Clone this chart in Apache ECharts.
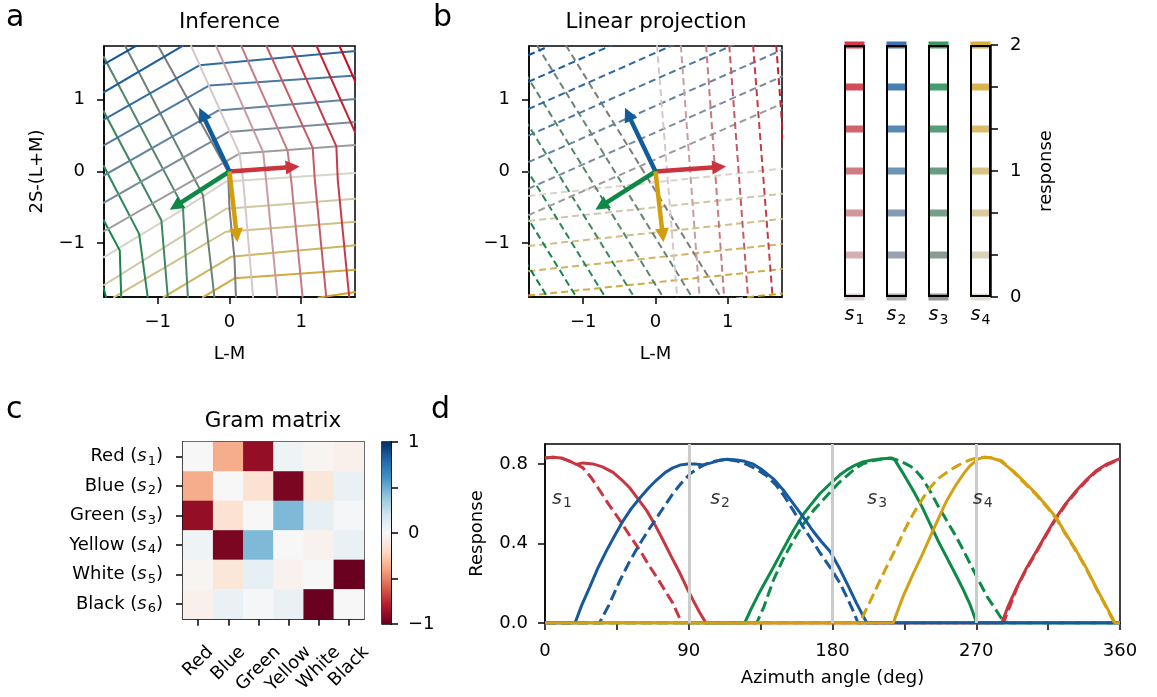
<!DOCTYPE html>
<html>
<head>
<meta charset="utf-8">
<script src="https://cdn.jsdelivr.net/npm/echarts@6/dist/echarts.min.js"></script>
<style>
html, body { margin: 0; padding: 0; background: #fff; }
#chart { width: 1157px; height: 697px; }
</style>
</head>
<body>
<div id="chart"></div>
<script>
// ---- data ----
var lmTicks = [-1, 0, 1];
var respLevels = [0, 1/3, 2/3, 1, 4/3, 5/3, 2];
var respLabels = [0, 1, 2];
var respCats = ['s1', 's2', 's3', 's4'];
var boxTop = [2, 2, 2, 2];
var subNums = ['1', '2', '3', '4', '5', '6'];

// level colours (level 0 .. 2) for s1..s4
var colS1 = ['#d5c8ca', '#c99ca2', '#c67b82', '#c55b65', '#c43c48', '#c62030', '#c9081c'];
var colS2 = ['#9c9c9c', '#7d8c9c', '#6584a2', '#4a78a0', '#2f6a9f', '#1c5e9e', '#0c5199'];
var colS3 = ['#7c7c7c', '#688573', '#54866b', '#3f8661', '#2a8657', '#158649', '#07803e'];
var colS4 = ['#d8d4c8', '#d0c7a7', '#d1be87', '#d0b462', '#d0aa42', '#d0a122', '#cf9a0c'];
var arrowColors = ['#c9343f', '#135c9c', '#0f8845', '#d39e0e'];
var curveColors = ['#c83741', '#18599c', '#0e8a48', '#d4a012'];

// basis vectors (arrow shafts)
var arrowEnds = [[0.88, 0.064], [-0.38, 0.80], [-0.75, -0.48], [0.10, -0.89]];

// panel a: inferred iso-response lines (polylines), level 0..
var infS1 = [
  [[-0.54, 1.76], [0.14, 0.25], [0.19, -0.12], [0.33, -1.76]],
  [[-0.19, 1.76], [0.47, 0.27], [0.51, -0.12], [0.67, -1.76]],
  [[0.16, 1.76], [0.81, 0.29], [0.86, -0.12], [1.02, -1.76]],
  [[0.51, 1.76], [1.16, 0.33], [1.19, -0.12], [1.35, -1.76]],
  [[0.86, 1.76], [1.49, 0.35], [1.51, -0.12], [1.67, -1.76]],
  [[1.21, 1.76], [1.76, 0.53]],
  [[1.53, 1.76], [1.76, 1.24]]
];
var infS2 = [
  [[-1.76, -0.84], [0.14, 0.25], [1.76, 0.37]],
  [[-1.76, -0.44], [-0.02, 0.55], [1.76, 0.69]],
  [[-1.76, -0.06], [-0.16, 0.85], [1.76, 1.01]],
  [[-1.76, 0.36], [-0.28, 1.20], [1.76, 1.34]],
  [[-1.76, 0.72], [-0.42, 1.48], [1.76, 1.68]],
  [[-1.76, 1.10], [-0.64, 1.76]],
  [[-1.76, 1.49], [-1.29, 1.76]]
];
var infS3 = [
  [[-1.00, 1.76], [-0.02, 0.0], [0.0, -0.52], [0.07, -1.22], [0.09, -1.76]],
  [[-1.46, 1.76], [-0.37, -0.33], [-0.21, -1.76]],
  [[-1.76, 1.61], [-0.65, -0.49], [-0.58, -1.76]],
  [[-1.76, 0.85], [-0.95, -0.68], [-0.86, -1.76]],
  [[-1.76, 0.09], [-1.26, -0.87], [-1.14, -1.76]],
  [[-1.76, -0.67], [-1.53, -1.10], [-1.51, -1.76]],
  [[-1.76, -1.61], [-1.72, -1.76]]
];
var infS4 = [
  [[-1.76, -1.20], [-0.70, -0.56], [-0.05, -0.14], [1.76, -0.02]],
  [[-1.76, -1.59], [-0.05, -0.52], [1.76, -0.38]],
  [[-1.62, -1.76], [-0.05, -0.84], [1.76, -0.70]],
  [[-0.93, -1.76], [0.02, -1.19], [1.76, -1.03]],
  [[-0.38, -1.76], [0.07, -1.49], [1.76, -1.37]],
  [[1.23, -1.76], [1.76, -1.68]]
];

// panel b: straight iso-lines [x0, y0, x1, y1], level 0..
var linS1 = [[0.02, 1.76, 0.30, -1.76], [0.35, 1.76, 0.61, -1.76], [0.70, 1.76, 0.95, -1.76],
  [1.02, 1.76, 1.28, -1.76], [1.35, 1.76, 1.62, -1.76], [1.67, 1.76, 1.93, -1.76]];
var linS2 = [[-1.76, -0.61, 1.76, 0.95], [-1.76, -0.24, 1.76, 1.33], [-1.76, 0.13, 1.76, 1.70],
  [-1.76, 0.50, 1.76, 2.07], [-1.76, 0.87, 1.76, 2.44], [-1.76, 1.25, 1.76, 2.81], [-1.76, 1.62, 1.76, 3.19]];
var linS3 = [[-1.24, 1.76, 0.91, -1.76], [-1.64, 1.76, 0.51, -1.76], [-2.04, 1.76, 0.11, -1.76],
  [-2.44, 1.76, -0.29, -1.76], [-2.84, 1.76, -0.69, -1.76], [-3.24, 1.76, -1.09, -1.76], [-3.64, 1.76, -1.49, -1.76]];
var linS4 = [[-1.76, -0.34, 1.76, 0.04], [-1.76, -0.69, 1.76, -0.31], [-1.76, -1.04, 1.76, -0.66],
  [-1.76, -1.39, 1.76, -1.01], [-1.76, -1.73, 1.76, -1.36], [-1.76, -2.08, 1.76, -1.70]];

// panel c: Gram matrix
var heatCols = ['Red', 'Blue', 'Green', 'Yellow', 'White', 'Black'];
var heatRows = ['Red', 'Blue', 'Green', 'Yellow', 'White', 'Black'];
var gram = [
  [0.00, -0.37, -0.88, 0.05, -0.02, -0.05],
  [-0.37, 0.00, -0.15, -0.95, -0.12, 0.07],
  [-0.88, -0.15, 0.00, 0.45, 0.09, 0.01],
  [0.05, -0.95, 0.45, 0.00, -0.04, 0.07],
  [-0.02, -0.12, 0.09, -0.04, 0.00, -0.99],
  [-0.05, 0.07, 0.01, 0.07, -0.99, 0.00]
];
var cbRange = [-1, 1];
var cbTicks = [-1, -0.5, 0, 0.5, 1];
var cbLabels = [-1, 0, 1];
var rdbu = ['#67001f', '#b2182b', '#d6604d', '#f4a582', '#fddbc7', '#f7f7f7',
  '#d1e5f0', '#92c5de', '#4393c3', '#2166ac', '#053061'];

// panel d: response vs azimuth
var azTicks = [0, 45, 90, 135, 180, 225, 270, 315, 360];
var azLabels = [0, 90, 180, 270, 360];
var respTicksD = [0, 0.4, 0.8];
var guideAngles = [90, 180, 270];
var sLabelPos = [[10.6, 0.625], [109.6, 0.625], [208, 0.625], [274, 0.625]];

var s1Solid = [[0,0.83],[5,0.833],[10,0.83],[15,0.815],[19.8,0.797],[23.8,0.805],[30,0.80],[36,0.785],[42.6,0.757],[48,0.72],[53,0.68],[58,0.627],[63.7,0.565],[69,0.492],[74,0.415],[79,0.335],[84.5,0.25],[88.6,0.18],[92.7,0.115],[97,0.05],[100.8,0],[286,0],[290,0.085],[295.4,0.18],[301,0.27],[307.9,0.365],[314,0.45],[320,0.53],[326,0.60],[332.6,0.665],[339,0.72],[345,0.765],[352,0.80],[358.8,0.823],[360,0.825]];
var s1Dash = [[0,0.83],[5,0.833],[10,0.83],[15,0.815],[20,0.797],[23.8,0.78],[29,0.73],[34.4,0.665],[40,0.595],[47,0.515],[53,0.44],[59.5,0.365],[65,0.29],[70,0.23],[75,0.165],[80,0.10],[85.6,0],[287,0],[295.4,0.175],[301,0.265],[307.9,0.36],[314,0.445],[320,0.525],[326,0.595],[332.6,0.66],[339,0.715],[345,0.76],[352,0.795],[358.8,0.82],[360,0.823]];
var s2Solid = [[0,0],[18.8,0],[23,0.09],[28,0.18],[33,0.275],[38.6,0.365],[44,0.445],[49,0.515],[54,0.575],[59.5,0.63],[65,0.68],[70,0.72],[75,0.755],[80,0.78],[85,0.795],[89.6,0.80],[94,0.80],[99,0.795],[104,0.805],[109,0.818],[113.8,0.823],[120,0.82],[125,0.813],[130,0.80],[136,0.77],[143,0.725],[149,0.67],[155,0.605],[161,0.54],[168,0.46],[173,0.41],[178.5,0.36],[184.7,0.27],[189,0.20],[195,0.10],[201.5,0],[360,0]];
var s2Dash = [[0,0],[34,0],[40,0.09],[47,0.215],[53,0.31],[59.5,0.40],[65,0.47],[70,0.53],[75,0.59],[80,0.65],[85,0.70],[90.8,0.75],[96,0.78],[101,0.80],[107,0.815],[113.8,0.823],[120,0.815],[127,0.795],[133,0.77],[138.8,0.74],[145,0.69],[150,0.635],[155.5,0.565],[161,0.49],[166,0.43],[172,0.355],[178.5,0.28],[184.7,0.20],[189,0.13],[193,0.06],[196,0],[360,0]];
var s3Solid = [[0,0],[125,0],[129,0.07],[134.7,0.16],[143,0.28],[149,0.37],[155.5,0.465],[162,0.55],[168,0.61],[172,0.65],[178.5,0.70],[184.7,0.745],[189,0.77],[194,0.793],[199,0.81],[205,0.82],[211,0.826],[216.7,0.828],[219,0.82],[224,0.755],[230.6,0.665],[236,0.585],[241,0.50],[246,0.415],[251.5,0.33],[257,0.245],[262,0.165],[266,0.095],[270.3,0],[360,0]];
var s3Dash = [[0,0],[132.5,0],[137,0.08],[143,0.215],[149,0.32],[155.5,0.415],[162,0.50],[168,0.565],[172,0.60],[178.5,0.657],[184,0.705],[189,0.74],[194,0.775],[199,0.80],[205,0.815],[211,0.825],[216.7,0.83],[222,0.815],[226,0.80],[230.6,0.78],[236,0.73],[241,0.665],[246,0.59],[251.5,0.515],[257,0.44],[262,0.365],[267,0.285],[272.4,0.20],[277,0.13],[282,0.07],[286,0.02],[290,0],[360,0]];
var s4Solid = [[0,0],[218,0],[224,0.13],[230.6,0.25],[236,0.34],[241,0.43],[246,0.52],[251.5,0.615],[257,0.69],[262,0.75],[266,0.79],[271.3,0.825],[275,0.833],[278.6,0.832],[285,0.815],[293,0.765],[300,0.71],[307.5,0.65],[314,0.59],[320,0.53],[326,0.45],[332.6,0.365],[339,0.275],[345,0.18],[351,0.09],[356.9,0],[360,0]];
var s4Dash = [[0,0],[197,0],[203,0.10],[209.8,0.215],[215,0.30],[220,0.38],[225,0.465],[230.6,0.55],[236,0.62],[241,0.68],[246,0.725],[251.5,0.757],[257,0.785],[262,0.807],[266,0.82],[270.3,0.83],[275,0.833],[280,0.83],[286,0.815],[293,0.762],[300,0.705],[307.5,0.645],[314,0.585],[320,0.525],[326,0.445],[332.6,0.36],[339,0.27],[345,0.175],[351,0.085],[356.5,0],[360,0]];

// ---- helpers ----
var FONT = 'DejaVu Sans';
var FS = 18;

function fmtNum(v) {
  return v < 0 ? '\u2212' + Math.abs(v) : String(v);
}

// italic s with a lowered, smaller index
function sRich(size) {
  return {
    i: { fontStyle: 'italic', fontSize: size, fontFamily: FONT, color: '#000' },
    n: { fontSize: Math.round(size * 0.72), fontFamily: FONT, color: '#000', padding: [Math.round(size * 0.5), 0, 0, 1] }
  };
}
function sText(k) {
  return '{i|s}{n|' + subNums[k] + '}';
}

function axisStyle(o) {
  var base = {
    axisLine: { show: true, onZero: false, lineStyle: { color: '#000', width: 1.5 } },
    axisTick: { show: true, length: 7, lineStyle: { color: '#000', width: 1.5 } },
    axisLabel: { color: '#000', fontSize: FS, fontFamily: FONT },
    splitLine: { show: false },
    nameTextStyle: { color: '#000', fontSize: FS, fontFamily: FONT },
    nameLocation: 'middle'
  };
  for (var k in o) {
    if (base[k] && typeof o[k] === 'object' && !Array.isArray(o[k])) {
      for (var j in o[k]) base[k][j] = o[k][j];
    } else {
      base[k] = o[k];
    }
  }
  return base;
}

function gridLine(idx, pts, color, dashed) {
  return {
    type: 'line', xAxisIndex: idx, yAxisIndex: idx, data: pts,
    symbol: 'none', showSymbol: false, clip: true, silent: true, z: 2,
    lineStyle: { color: color, width: 2, type: dashed ? [7, 4] : 'solid' }
  };
}

var series = [];

function addInference(fam, cols) {
  fam.forEach(function (pts, k) { series.push(gridLine(0, pts, cols[k], false)); });
}
function addLinear(fam, cols) {
  fam.forEach(function (s, k) {
    series.push(gridLine(1, [[s[0], s[1]], [s[2], s[3]]], cols[k], true));
  });
}

addInference(infS4, colS4);
addInference(infS3, colS3);
addInference(infS2, colS2);
addInference(infS1, colS1);
addLinear(linS4, colS4);
addLinear(linS3, colS3);
addLinear(linS2, colS2);
addLinear(linS1, colS1);

[0, 1].forEach(function (g) {
  series.push({
    type: 'lines', coordinateSystem: 'cartesian2d', xAxisIndex: g, yAxisIndex: g,
    symbol: ['none', 'triangle'], symbolSize: 14, silent: true, z: 5,
    data: arrowEnds.map(function (e, i) {
      return { coords: [[0, 0], e], lineStyle: { color: arrowColors[i] } };
    }),
    lineStyle: { width: 4.5, opacity: 1, curveness: 0 }
  });
});

// response bars
var bandData = [];
[colS1, colS2, colS3, colS4].forEach(function (cols, i) {
  respLevels.forEach(function (lv, k) {
    bandData.push({ value: [i, lv], itemStyle: { color: cols[k] } });
  });
});
series.push({
  type: 'scatter', xAxisIndex: 2, yAxisIndex: 2, symbol: 'rect', symbolSize: [20, 7],
  data: bandData, silent: true, z: 3
});
series.push({
  type: 'bar', xAxisIndex: 2, yAxisIndex: 2, data: boxTop, barWidth: 21, silent: true, z: 4,
  itemStyle: { color: 'rgba(0,0,0,0)', borderColor: '#000', borderWidth: 2 }
});

// heatmap
var heatData = [];
gram.forEach(function (row, r) {
  row.forEach(function (v, c) { heatData.push([c, r, v]); });
});
var heatIndex = series.length;
series.push({
  type: 'heatmap', xAxisIndex: 3, yAxisIndex: 3, data: heatData, silent: true
});

// colorbar
var cbStops = rdbu.slice().reverse().map(function (c, i, a) {
  return { offset: i / (a.length - 1), color: c };
});
series.push({
  type: 'custom', xAxisIndex: 4, yAxisIndex: 4, silent: true,
  data: [[0, cbRange[0], 1, cbRange[1]]],
  renderItem: function (params, api) {
    var p0 = api.coord([api.value(0), api.value(1)]);
    var p1 = api.coord([api.value(2), api.value(3)]);
    return {
      type: 'rect',
      shape: { x: p0[0], y: p1[1], width: p1[0] - p0[0], height: p0[1] - p1[1] },
      style: { fill: new echarts.graphic.LinearGradient(0, 0, 0, 1, cbStops) }
    };
  }
});

// panel d
series.push({
  type: 'line', xAxisIndex: 5, yAxisIndex: 5, data: [], z: 1, silent: true,
  markLine: {
    silent: true, symbol: ['none', 'none'], label: { show: false }, animation: false,
    lineStyle: { color: '#cccccc', width: 3, type: 'solid' },
    data: guideAngles.map(function (a) { return { xAxis: a }; })
  }
});
[[s1Solid, s1Dash, 0], [s3Solid, s3Dash, 2], [s2Solid, s2Dash, 1], [s4Solid, s4Dash, 3]].forEach(function (c) {
  [c[0], c[1]].forEach(function (d, j) {
    series.push({
      type: 'line', xAxisIndex: 5, yAxisIndex: 5, data: d, symbol: 'none', showSymbol: false,
      silent: true, z: 3, clip: true,
      lineStyle: { color: curveColors[c[2]], width: 3, type: j ? [11, 5] : 'solid' }
    });
  });
});
series.push({
  type: 'scatter', xAxisIndex: 5, yAxisIndex: 5, symbolSize: 1, silent: true, z: 6,
  itemStyle: { color: 'rgba(0,0,0,0)' },
  data: sLabelPos,
  label: {
    show: true, position: 'inside', color: '#000', fontSize: 19, fontFamily: FONT,
    formatter: function (p) { return sText(p.dataIndex); },
    rich: sRich(19)
  }
});

// rotated heatmap x labels, centred on the tick like the original
var ctx = document.createElement('canvas').getContext('2d');
ctx.font = FS + 'px "' + FONT + '"';
var widths = heatCols.map(function (c) { return ctx.measureText(c).width; });
var wMin = Math.min.apply(null, widths);
var heatRich = {};
widths.forEach(function (w, i) {
  var p = 1.414 * 0.354 * (w - wMin);
  heatRich['r' + i] = { padding: [p, p, 0, 0], fontSize: FS, fontFamily: FONT, color: '#000' };
});
var heatMargin = 23 + 0.354 * (wMin + 21);

var yRich = sRich(FS);

var chart = echarts.init(document.getElementById('chart'));
chart.setOption({
  animation: false,
  backgroundColor: '#fff',
  textStyle: { fontFamily: FONT },
  grid: [
    { left: 104, top: 46, width: 251, height: 251, show: true, borderColor: '#000', borderWidth: 1.5 },
    { left: 529, top: 46, width: 253, height: 251, show: true, borderColor: '#000', borderWidth: 1.5 },
    { left: 833.5, top: 45, width: 168, height: 252 },
    { left: 183, top: 442, width: 181, height: 182, show: true, borderColor: '#000', borderWidth: 1.5 },
    { left: 382, top: 442, width: 9, height: 182, show: true, borderColor: '#000', borderWidth: 1.5 },
    { left: 545, top: 444, width: 575, height: 179, show: true, borderColor: '#000', borderWidth: 1.5 }
  ],
  xAxis: [
    axisStyle({ type: 'value', gridIndex: 0, min: -1.75, max: 1.75, name: 'L-M', nameGap: 48,
      axisTick: { customValues: lmTicks }, axisLabel: { customValues: lmTicks, formatter: fmtNum, margin: 16 } }),
    axisStyle({ type: 'value', gridIndex: 1, min: -1.75, max: 1.75, name: 'L-M', nameGap: 48,
      axisTick: { customValues: lmTicks }, axisLabel: { customValues: lmTicks, formatter: fmtNum, margin: 16 } }),
    axisStyle({ type: 'category', gridIndex: 2, data: respCats,
      axisLine: { show: false }, axisTick: { show: false },
      axisLabel: { margin: 6, interval: 0, fontSize: 19, formatter: function (v, i) { return sText(i); },
        rich: sRich(19) } }),
    axisStyle({ type: 'category', gridIndex: 3, data: heatCols,
      axisTick: { alignWithLabel: true },
      axisLabel: { rotate: 45, align: 'center', verticalAlign: 'middle', margin: heatMargin, interval: 0,
        formatter: function (v, i) { return '{r' + i + '|' + v + '}'; }, rich: heatRich } }),
    { type: 'value', gridIndex: 4, min: 0, max: 1, show: false },
    axisStyle({ type: 'value', gridIndex: 5, min: 0, max: 360, name: 'Azimuth angle (deg)', nameGap: 46,
      axisTick: { customValues: azTicks }, axisLabel: { customValues: azLabels, margin: 19 } })
  ],
  yAxis: [
    axisStyle({ type: 'value', gridIndex: 0, min: -1.75, max: 1.75, name: '2S-(L+M)', nameGap: 58, nameRotate: 90,
      axisTick: { customValues: lmTicks }, axisLabel: { customValues: lmTicks, formatter: fmtNum, margin: 19 } }),
    axisStyle({ type: 'value', gridIndex: 1, min: -1.75, max: 1.75,
      axisTick: { customValues: lmTicks }, axisLabel: { customValues: lmTicks, formatter: fmtNum, margin: 19 } }),
    axisStyle({ type: 'value', gridIndex: 2, position: 'right', offset: -10.5, min: 0, max: 2,
      name: 'response', nameGap: 46, nameRotate: 90,
      axisTick: { customValues: respLevels }, axisLabel: { customValues: respLabels, margin: 19 } }),
    axisStyle({ type: 'category', gridIndex: 3, data: heatRows, inverse: true,
      axisTick: { alignWithLabel: true },
      axisLabel: { margin: 20, interval: 0,
        formatter: function (v, i) { return v + ' (' + sText(i) + ')'; },
        rich: yRich } }),
    axisStyle({ type: 'value', gridIndex: 4, position: 'right', min: -1, max: 1,
      axisTick: { customValues: cbTicks }, axisLabel: { customValues: cbLabels, formatter: fmtNum, margin: 17 } }),
    axisStyle({ type: 'value', gridIndex: 5, min: 0, max: 0.9, name: 'Response', nameGap: 59, nameRotate: 90,
      axisTick: { customValues: respTicksD },
      axisLabel: { customValues: respTicksD, margin: 17, formatter: function (v) { return v.toFixed(1); } } })
  ],
  visualMap: [{
    type: 'continuous', show: false, min: -1, max: 1, dimension: 2, seriesIndex: heatIndex,
    inRange: { color: rdbu }
  }],
  graphic: [
    { type: 'text', x: 6, y: 3, style: { text: 'a', font: '30px "DejaVu Sans"', fill: '#000', textVerticalAlign: 'top', verticalAlign: 'top' } },
    { type: 'text', x: 433, y: 3, style: { text: 'b', font: '30px "DejaVu Sans"', fill: '#000', textVerticalAlign: 'top', verticalAlign: 'top' } },
    { type: 'text', x: 6, y: 395, style: { text: 'c', font: '30px "DejaVu Sans"', fill: '#000', textVerticalAlign: 'top', verticalAlign: 'top' } },
    { type: 'text', x: 431, y: 395, style: { text: 'd', font: '30px "DejaVu Sans"', fill: '#000', textVerticalAlign: 'top', verticalAlign: 'top' } },
    { type: 'text', x: 229.5, y: 11, style: { text: 'Inference', font: '21.5px "DejaVu Sans"', fill: '#000', textAlign: 'center', align: 'center', textVerticalAlign: 'top', verticalAlign: 'top' } },
    { type: 'text', x: 656, y: 11, style: { text: 'Linear projection', font: '21.5px "DejaVu Sans"', fill: '#000', textAlign: 'center', align: 'center', textVerticalAlign: 'top', verticalAlign: 'top' } },
    { type: 'text', x: 273, y: 410, style: { text: 'Gram matrix', font: '21.5px "DejaVu Sans"', fill: '#000', textAlign: 'center', align: 'center', textVerticalAlign: 'top', verticalAlign: 'top' } }
  ],
  series: series
});
</script>
</body>
</html>
